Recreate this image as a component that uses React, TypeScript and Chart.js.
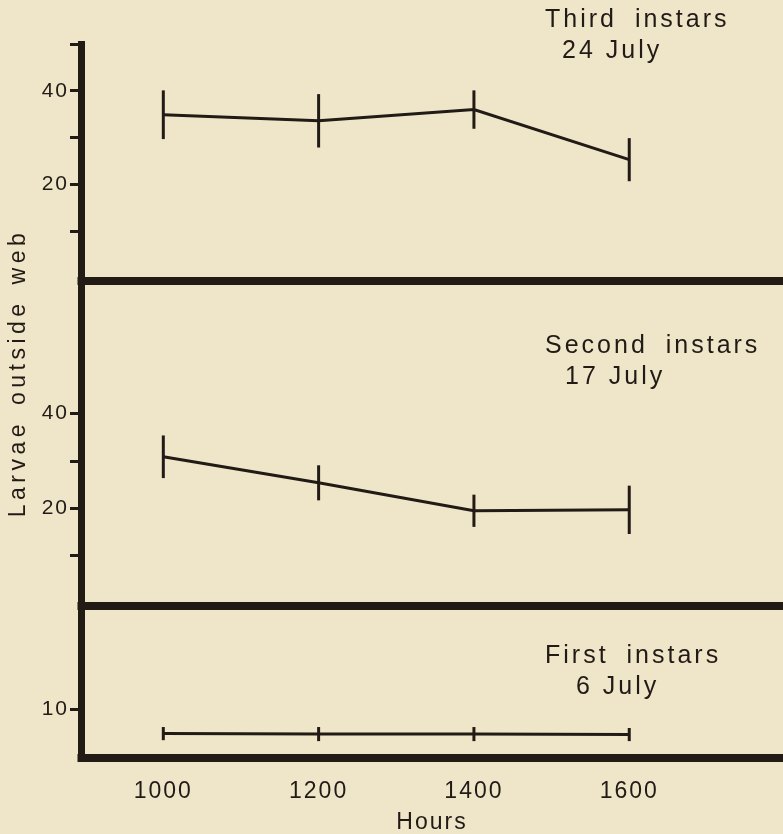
import { useEffect, useRef } from 'react';
import { Chart, registerables } from 'chart.js';

Chart.register(...registerables);

// ---------------- data ----------------
const hours = [1000, 1200, 1400, 1600];
const xTickValues = [1000, 1200, 1400, 1600];
const xTickLabels = ['1000', '1200', '1400', '1600'];

const thirdMean = [34.9, 33.6, 36.0, 25.3];
const thirdErr = [5.2, 5.7, 4.1, 4.6];
const secondMean = [30.9, 25.4, 19.5, 19.7];
const secondErr = [4.5, 3.7, 3.4, 5.1];
const firstMean = [4.8, 4.7, 4.7, 4.6];
const firstErr = [1.4, 1.5, 1.5, 1.4];

const topTicks = [10, 20, 30, 40, 50];
const topTickLabels = ['', '20', '', '40', ''];
const midTicks = [10, 20, 30, 40];
const midTickLabels = ['', '20', '', '40'];
const botTicks = [10];
const botTickLabels = ['10'];

const panelTitles = ['Third instars', 'Second instars', 'First instars'];
const panelDates = ['24 July', '17 July', '6 July'];
const yTitle = 'Larvae outside web';
const xTitle = 'Hours';

// ---------------- style ----------------
const INK = '#221a15';
const BG = '#efe6c9';
const FONT = '"Liberation Sans", Arial, sans-serif';

const panelIds = ['yTop', 'yMid', 'yBot'];
const meanSets = [thirdMean, secondMean, firstMean];
const errSets = [thirdErr, secondErr, firstErr];

function yScale(ticksArr: number[], labelsArr: string[], min: number, max: number, weight: number, stackWeight: number) {
  return {
    type: 'linear',
    position: 'left',
    stack: 'panels',
    stackWeight,
    weight,
    min,
    max,
    afterBuildTicks: (s: any) => {
      s.ticks = ticksArr.map((v) => ({ value: v }));
    },
    afterFit: (s: any) => {
      s.width = 81;
    },
    ticks: {
      autoSkip: false,
      padding: 1,
      color: INK,
      font: { family: FONT, size: 21 },
      callback: (v: number) => {
        const i = ticksArr.indexOf(v);
        return i >= 0 ? labelsArr[i] : '';
      },
    },
    grid: {
      drawOnChartArea: false,
      drawTicks: true,
      tickLength: 11,
      tickWidth: 3,
      tickColor: INK,
    },
    border: { display: true, width: 7, color: INK },
  };
}

const decorPlugin = {
  id: 'decor',
  beforeDraw(chart: any) {
    chart.ctx.letterSpacing = '2px';
  },
  afterDatasetsDraw(chart: any) {
    const ctx = chart.ctx;
    ctx.save();
    ctx.strokeStyle = INK;
    ctx.lineCap = 'butt';
    ctx.lineWidth = 3;
    meanSets.forEach((means, i) => {
      const meta = chart.getDatasetMeta(i);
      const ys = chart.scales[panelIds[i]];
      meta.data.forEach((pt: any, j: number) => {
        ctx.beginPath();
        ctx.moveTo(pt.x, ys.getPixelForValue(means[j] + errSets[i][j]));
        ctx.lineTo(pt.x, ys.getPixelForValue(means[j] - errSets[i][j]));
        ctx.stroke();
      });
    });
    const { left, right } = chart.chartArea;
    ctx.lineWidth = 8;
    panelIds.forEach((id) => {
      const s = chart.scales[id];
      ctx.beginPath();
      ctx.moveTo(left - 3.5, s.bottom);
      ctx.lineTo(right, s.bottom);
      ctx.stroke();
    });
    ctx.restore();
  },
  afterDraw(chart: any) {
    const ctx = chart.ctx;
    ctx.save();
    ctx.fillStyle = INK;
    ctx.textAlign = 'left';
    ctx.textBaseline = 'alphabetic';
    ctx.font = `25px ${FONT}`;
    const titleOffsets = [-17, 72, 57];
    const dateOffsets = [14, 103, 88];
    const dateX = [562, 565, 576];
    panelIds.forEach((id, i) => {
      const s = chart.scales[id];
      ctx.letterSpacing = '3px';
      ctx.wordSpacing = '8px';
      ctx.fillText(panelTitles[i], 545, s.top + titleOffsets[i]);
      ctx.wordSpacing = '0px';
      ctx.fillText(panelDates[i], dateX[i], s.top + dateOffsets[i]);
    });
    ctx.font = `23px ${FONT}`;
    ctx.letterSpacing = '4.5px';
    ctx.wordSpacing = '4px';
    ctx.translate(25, 373);
    ctx.rotate(-Math.PI / 2);
    ctx.textAlign = 'center';
    ctx.fillText(yTitle, 0, 0);
    ctx.restore();
  },
};

export default function App() {
  const ref = useRef<HTMLCanvasElement>(null);
  useEffect(() => {
    document.body.style.margin = '0';
    document.body.style.background = BG;
    const mk = (means: number[], id: string, label: string) => ({
      label,
      data: hours.map((h, i) => ({ x: h, y: means[i] })),
      yAxisID: id,
      xAxisID: 'x',
      borderColor: INK,
      backgroundColor: INK,
      borderWidth: 3,
      pointRadius: 0,
      tension: 0,
      fill: false,
    });
    const chart = new Chart(ref.current as HTMLCanvasElement, {
      type: 'line',
      data: {
        datasets: [
          mk(thirdMean, 'yTop', panelTitles[0]),
          mk(secondMean, 'yMid', panelTitles[1]),
          mk(firstMean, 'yBot', panelTitles[2]),
        ],
      },
      options: {
        animation: false,
        responsive: true,
        maintainAspectRatio: false,
        events: [],
        layout: { padding: { top: 44, left: 0, right: 0, bottom: 0 } },
        plugins: {
          legend: { display: false },
          tooltip: { enabled: false },
        },
        scales: {
          x: {
            type: 'linear',
            min: 894,
            max: 1798,
            afterBuildTicks: (s: any) => {
              s.ticks = xTickValues.map((v) => ({ value: v }));
            },
            afterFit: (s: any) => {
              s.height = 76;
            },
            ticks: {
              autoSkip: false,
              maxRotation: 0,
              padding: 20,
              color: INK,
              font: { family: FONT, size: 23 },
              callback: (v: number) => {
                const i = xTickValues.indexOf(v);
                return i >= 0 ? xTickLabels[i] : '';
              },
            },
            grid: { display: false, drawTicks: false },
            border: { display: false },
            title: {
              display: true,
              text: xTitle,
              color: INK,
              font: { family: FONT, size: 23, lineHeight: 1.0 },
              padding: { top: 0, bottom: 0 },
            },
          },
          yTop: yScale(topTicks, topTickLabels, -0.6, 50, 3, 237),
          yMid: yScale(midTicks, midTickLabels, -0.6, 68, 2, 325),
          yBot: yScale(botTicks, botTickLabels, -0.4, 32, 1, 152),
        } as any,
      },
      plugins: [decorPlugin],
    } as any);
    return () => chart.destroy();
  }, []);
  return (
    <div
      style={{
        position: 'absolute',
        left: 0,
        top: 0,
        width: 783,
        height: 834,
        background: BG,
        overflow: 'hidden',
      }}
    >
      <canvas ref={ref} />
    </div>
  );
}
